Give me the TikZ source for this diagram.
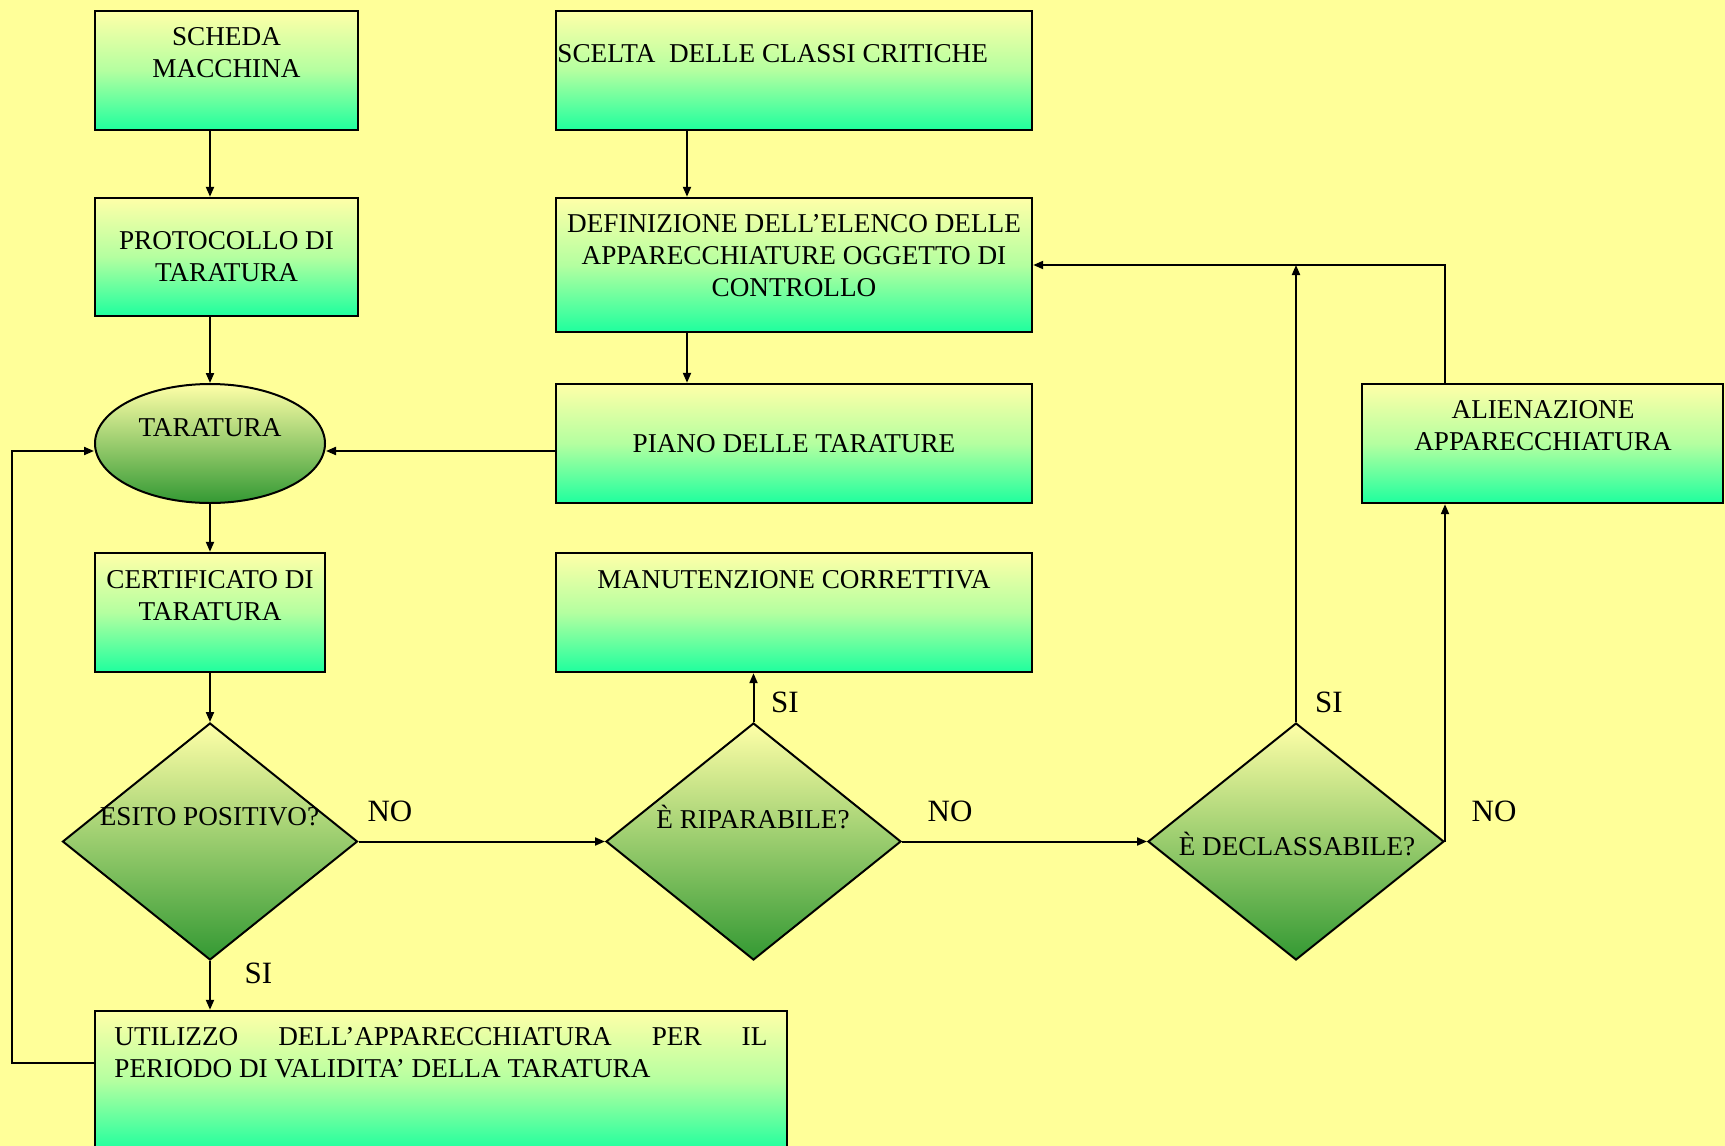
\documentclass[tikz,border=0pt]{standalone}
\usepackage{fontspec}
\setmainfont{Liberation Serif}
\usetikzlibrary{shapes.geometric,arrows.meta}
\definecolor{bg}{RGB}{255,255,153}
\definecolor{boxtop}{RGB}{255,255,168}
\definecolor{boxmid}{RGB}{180,255,160}
\definecolor{boxbot}{RGB}{30,255,158}
\definecolor{dtop}{RGB}{255,255,168}
\definecolor{dbot}{RGB}{51,153,51}
\begin{document}
\begin{tikzpicture}[x=0.5pt,y=-0.5pt,
  box/.style={draw=black,line width=1.2pt,rectangle,inner sep=0pt,
    top color=boxtop,bottom color=boxbot,middle color=boxmid},
  dec/.style={draw=black,line width=1pt,diamond,inner sep=0pt,
    top color=dtop,bottom color=dbot},
  oval/.style={draw=black,line width=1pt,ellipse,inner sep=0pt,
    top color=dtop,bottom color=dbot},
  txt/.style={font=\fontsize{13.6}{16}\selectfont,align=center,inner sep=0pt},
  lbl/.style={font=\fontsize{15.5}{18}\selectfont,inner sep=0pt},
  arr/.style={line width=1pt,-{Triangle[length=5pt,width=4pt]}},
  conn/.style={line width=1pt}]
\fill[bg] (0,0) rectangle (1725,1146);
\useasboundingbox (0,0) rectangle (1725,1146);

% shapes
\node[box,minimum width=131.5pt,minimum height=59.5pt] (scheda) at (226.5,70.5) {};
\node[box,minimum width=131.5pt,minimum height=59pt] (protocollo) at (226.5,257) {};
\node[oval,minimum width=115pt,minimum height=59.5pt] (taratura) at (210,443.5) {};
\node[box,minimum width=115pt,minimum height=59.5pt] (certificato) at (210,612.5) {};
\node[dec,minimum width=147.5pt,minimum height=118.5pt] (esito) at (210,841.5) {};
\node[box,minimum width=346pt,minimum height=70pt] (utilizzo) at (441,1081) {};
\node[box,minimum width=238pt,minimum height=59.5pt] (scelta) at (794,70.5) {};
\node[box,minimum width=238pt,minimum height=67pt] (definizione) at (794,265) {};
\node[box,minimum width=238pt,minimum height=59.5pt] (piano) at (794,443.5) {};
\node[box,minimum width=238pt,minimum height=59.5pt] (manutenzione) at (794,612.5) {};
\node[dec,minimum width=147.5pt,minimum height=118.5pt] (riparabile) at (753.5,841.5) {};
\node[dec,minimum width=148pt,minimum height=118.5pt] (declassabile) at (1296,841.5) {};
\node[box,minimum width=180.5pt,minimum height=59.5pt] (alienazione) at (1542.5,443.5) {};

% texts
\node[txt] (t-scheda) at (226.5,53) {SCHEDA\\MACCHINA};
\node[txt] (t-protocollo) at (226.5,257) {PROTOCOLLO DI\\TARATURA};
\node[txt] (t-taratura) at (210,428) {TARATURA};
\node[txt] (t-certificato) at (210,596) {CERTIFICATO DI\\TARATURA};
\node[txt] (t-esito) at (209.5,817) {ESITO POSITIVO?};
\node[txt,anchor=west,text width=326.5pt,align=justify] (t-utilizzo) at (114,1053)
  {UTILIZZO DELL’APPARECCHIATURA PER IL\linebreak PERIODO DI VALIDITA’ DELLA TARATURA};
\node[txt,anchor=west] (t-scelta) at (557,54) {SCELTA\ \ DELLE CLASSI CRITICHE};
\node[txt] (t-definizione) at (794,256) {DEFINIZIONE DELL’ELENCO DELLE\\APPARECCHIATURE OGGETTO DI\\CONTROLLO};
\node[txt] (t-piano) at (794,444) {PIANO DELLE TARATURE};
\node[txt] (t-manutenzione) at (794,580) {MANUTENZIONE CORRETTIVA};
\node[txt] (t-riparabile) at (753,817) {È RIPARABILE?};
\node[txt] (t-declassabile) at (1297,844) {È DECLASSABILE?};
\node[txt] (t-alienazione) at (1543,426) {ALIENAZIONE\\APPARECCHIATURA};

% helper coordinates
\coordinate (colB) at (687,0);
\coordinate (rowP) at (0,451);
\coordinate (rowU) at (0,1063);
\coordinate (colL) at (12,0);

% connectors
\draw[arr] (scheda.south -| taratura) -- (protocollo.north -| taratura);
\draw[arr] (protocollo.south -| taratura) -- (taratura.north);
\draw[arr] (taratura.south) -- (certificato.north);
\draw[arr] (certificato.south) -- (esito.north);
\draw[arr] (esito.south) -- (utilizzo.north -| esito.south);
\draw[arr] (scelta.south -| colB) -- (definizione.north -| colB);
\draw[arr] (definizione.south -| colB) -- (piano.north -| colB);
\draw[arr] (piano.west |- rowP) -- (taratura.east |- rowP);
\draw[arr] (esito.east) -- (riparabile.west);
\draw[arr] (riparabile.north) -- (manutenzione.south -| riparabile.north);
\draw[arr] (riparabile.east) -- (declassabile.west);
\draw[arr] (declassabile.north) -- (declassabile.north |- definizione.east);
\draw[arr] (declassabile.east) -- (alienazione.south -| declassabile.east);
\draw[arr] (alienazione.north -| declassabile.east) |- (definizione.east);
\draw[arr] (utilizzo.west |- rowU) -| (colL |- rowP) -- (taratura.west |- rowP);

% labels
\node[lbl] (l-si1) at (258.5,973.5) {SI};
\node[lbl] (l-no1) at (390,811) {NO};
\node[lbl] (l-si2) at (785,702) {SI};
\node[lbl] (l-no2) at (950,811) {NO};
\node[lbl] (l-si3) at (1329,702) {SI};
\node[lbl] (l-no3) at (1494,811) {NO};
\end{tikzpicture}
\end{document}
